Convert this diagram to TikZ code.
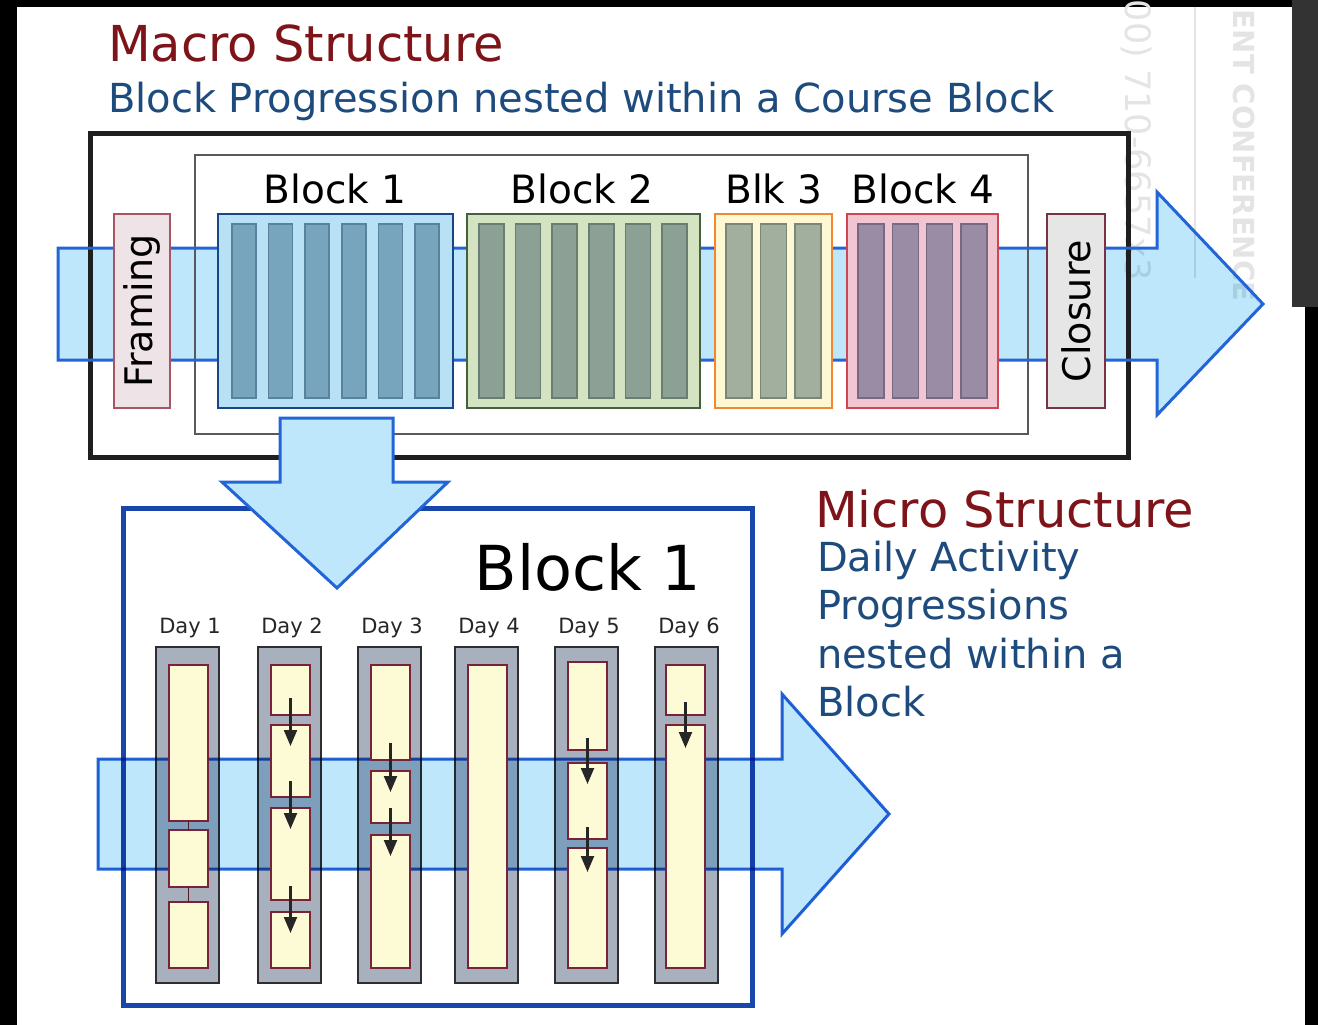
\documentclass[tikz,border=0pt]{standalone}
\usepackage{fontspec}
\setmainfont{DejaVu Sans}
\usetikzlibrary{arrows.meta}
\definecolor{arrowfill}{RGB}{190,231,251}
\definecolor{arrowline}{RGB}{35,100,215}
\definecolor{macrored}{RGB}{125,20,25}
\definecolor{subblue}{RGB}{30,75,125}
\definecolor{bAfill}{RGB}{185,225,245}\definecolor{bAline}{RGB}{25,70,135}
\definecolor{bAstripe}{RGB}{120,165,190}\definecolor{bAsline}{RGB}{90,130,155}
\definecolor{bBfill}{RGB}{212,228,195}\definecolor{bBline}{RGB}{70,95,60}
\definecolor{bBstripe}{RGB}{140,160,150}\definecolor{bBsline}{RGB}{105,125,115}
\definecolor{bCfill}{RGB}{253,247,212}\definecolor{bCline}{RGB}{240,135,50}
\definecolor{bCstripe}{RGB}{163,175,158}\definecolor{bCsline}{RGB}{120,135,120}
\definecolor{bDfill}{RGB}{242,198,208}\definecolor{bDline}{RGB}{205,70,85}
\definecolor{bDstripe}{RGB}{155,140,165}\definecolor{bDsline}{RGB}{120,105,130}
\definecolor{frfill}{RGB}{238,228,231}\definecolor{frline}{RGB}{165,85,100}
\definecolor{clfill}{RGB}{230,230,230}\definecolor{clline}{RGB}{120,50,65}
\definecolor{colfill}{RGB}{168,176,190}\definecolor{colline}{RGB}{45,45,50}
\definecolor{dayfill}{RGB}{253,250,214}\definecolor{dayline}{RGB}{120,35,55}
\definecolor{lowbox}{RGB}{25,70,170}
\definecolor{wmark}{RGB}{228,228,228}
\newcommand\mybox[6]{%
  \node[#6, rectangle, anchor=north west, minimum width={(#4)-(#2)}, minimum height={(#5)-(#3)}] (#1) at (#2,#3) {};}
\begin{document}
\begin{tikzpicture}[x=1pt,y=-1pt,
  every node/.style={inner sep=0pt, outer sep=0pt},
  mtitle/.style={font=\fontsize{49.5}{55}\selectfont, text=macrored, anchor=base west},
  msub/.style={font=\fontsize{40}{46}\selectfont, text=subblue, anchor=base west},
  blabel/.style={font=\fontsize{39}{44}\selectfont, text=black, anchor=base},
  daylabel/.style={font=\fontsize{21}{24}\selectfont, text=black!85, anchor=base},
  sidetext/.style={font=\fontsize{38}{44}\selectfont, text=black, rotate=90},
  stripeA/.style={fill=bAstripe, draw=bAsline, line width=1.5pt},
  stripeB/.style={fill=bBstripe, draw=bBsline, line width=1.5pt},
  stripeC/.style={fill=bCstripe, draw=bCsline, line width=1.5pt},
  stripeD/.style={fill=bDstripe, draw=bDsline, line width=1.5pt},
  colbox/.style={fill=colfill, draw=colline, line width=2.5pt},
  daybox/.style={fill=dayfill, draw=dayline, line width=2.2pt},
  darr/.style={draw=black!85, line width=2.2pt, -{Triangle[width=13pt,length=16pt]}},
  bigarrow/.style={draw=arrowline, line width=3pt, line join=miter}
]
\useasboundingbox (0,0) rectangle (1318,1025);
% photo frame
\fill[black] (0,0) rectangle (1318,1025);
\fill[white] (17,7) rectangle (1305,1025);
\fill[black!80] (1292,0) rectangle (1318,307);
\draw[wmark, line width=1.5pt] (1195,7) -- (1195,278);
\node[font=\fontsize{35}{35}\selectfont, text=wmark, rotate=-90, anchor=base west] (wm1) at (1125,0) {00) 710-6657x3};
\node[font=\bfseries\fontsize{29}{29}\selectfont, text=wmark, rotate=-90, anchor=base west] (wm2) at (1233,10) {ENT CONFERENCE};

% titles
\node[mtitle] (t1) at (108,62) {Macro Structure};
\node[msub] (t2) at (108,112) {Block Progression nested within a Course Block};

% top arrow fill
\fill[arrowfill, blend mode=multiply] (58,248) -- (1157,248) -- (1157,192) -- (1263,304) -- (1157,415) -- (1157,360) -- (58,360) -- cycle;
% course boxes
\mybox{outer}{90}{133}{1128}{457}{draw=black!88, line width=5pt}
\mybox{inner}{195}{155}{1028}{434}{draw=black!65, line width=2.5pt}
\draw[bigarrow] (58,248) -- (1157,248) -- (1157,192) -- (1263,304) -- (1157,415) -- (1157,360) -- (58,360) -- cycle;

% framing / closure
\mybox{fr}{114}{214}{170}{408}{fill=frfill, draw=frline, line width=2.5pt}
\node[sidetext] at (fr.center) {Framing};
\mybox{cl}{1047}{214}{1105}{408}{fill=clfill, draw=clline, line width=2.5pt}
\node[sidetext] at (cl.center) {Closure};

% Block 1
\mybox{bA}{218}{214}{453}{408}{fill=bAfill, draw=bAline, line width=2.5pt}
\foreach \i in {0,...,5} {\mybox{bAs\i}{232+\i*36.6}{224}{256+\i*36.6}{398}{stripeA}}
\node[blabel] (lA) at (335,203) {Block 1};
% Block 2
\mybox{bB}{467}{214}{700}{408}{fill=bBfill, draw=bBline, line width=2.5pt}
\foreach \i in {0,...,5} {\mybox{bBs\i}{479+\i*36.6}{224}{504+\i*36.6}{398}{stripeB}}
\node[blabel] (lB) at (582,203) {Block 2};
% Blk 3
\mybox{bC}{715}{214}{832}{408}{fill=bCfill, draw=bCline, line width=2.5pt}
\foreach \i in {0,...,2} {\mybox{bCs\i}{726+\i*34.5}{224}{752+\i*34.5}{398}{stripeC}}
\node[blabel] (lC) at (774,203) {Blk 3};
% Block 4
\mybox{bD}{847}{214}{998}{408}{fill=bDfill, draw=bDline, line width=2.5pt}
\foreach \i in {0,...,3} {\mybox{bDs\i}{858+\i*34.3}{224}{884+\i*34.3}{398}{stripeD}}
\node[blabel] (lD) at (923,203) {Block 4};

% micro structure text
\node[font=\fontsize{49.5}{52}\selectfont, text=macrored, anchor=base west] (m1) at (815,527) {Micro Structure};
\foreach \t/\y [count=\k] in {Daily Activity/571, Progressions/619, nested within a/668, Block/716}
  \node[font=\fontsize{40}{46}\selectfont, text=subblue, anchor=base west] (mline\k) at (817,\y) {\t};

% lower block
\mybox{low}{123}{508}{752}{1005}{draw=lowbox, line width=5pt}
\node[font=\fontsize{62}{62}\selectfont, anchor=base] (lowt) at (588,590) {Block 1};

% day columns
\foreach \n/\x in {1/156,2/258,3/358,4/455,5/555,6/655} {
  \mybox{col\n}{\x}{647}{\x+63}{983}{colbox}
  \node[daylabel] (dl\n) at (\x+34,633) {Day \n};
}

% lower arrow fill + outline (multiplied over columns)
\fill[arrowfill, blend mode=multiply] (98,759) -- (782,759) -- (782,694) -- (889,814) -- (782,934) -- (782,869) -- (98,869) -- cycle;
\draw[bigarrow, blend mode=multiply] (98,759) -- (782,759) -- (782,694) -- (889,814) -- (782,934) -- (782,869) -- (98,869) -- cycle;

% day boxes
\mybox{d1a}{169}{665}{208}{821}{daybox}
\mybox{d1b}{169}{830}{208}{887}{daybox}
\mybox{d1c}{169}{902}{208}{968}{daybox}
\draw[dayline!70!black, line width=1.5pt] (d1a.south) -- (d1b.north);
\draw[dayline!70!black, line width=1.5pt] (d1b.south) -- (d1c.north);

\mybox{d2a}{271}{665}{310}{715}{daybox}
\mybox{d2b}{271}{725}{310}{797}{daybox}
\mybox{d2c}{271}{808}{310}{900}{daybox}
\mybox{d2d}{271}{912}{310}{968}{daybox}

\mybox{d3a}{371}{665}{410}{760}{daybox}
\mybox{d3b}{371}{771}{410}{823}{daybox}
\mybox{d3c}{371}{835}{410}{968}{daybox}

\mybox{d4a}{468}{665}{507}{968}{daybox}

\mybox{d5a}{568}{662}{607}{750}{daybox}
\mybox{d5b}{568}{763}{607}{839}{daybox}
\mybox{d5c}{568}{848}{607}{968}{daybox}

\mybox{d6a}{666}{665}{705}{715}{daybox}
\mybox{d6b}{666}{725}{705}{968}{daybox}

\draw[darr] ([yshift=17pt]d2a.south) -- ([yshift=-21pt]d2b.north);
\draw[darr] ([yshift=16pt]d2b.south) -- ([yshift=-21pt]d2c.north);
\draw[darr] ([yshift=14pt]d2c.south) -- ([yshift=-21pt]d2d.north);
\draw[darr] ([yshift=17pt]d3a.south) -- ([yshift=-21pt]d3b.north);
\draw[darr] ([yshift=15pt]d3b.south) -- ([yshift=-21pt]d3c.north);
\draw[darr] ([yshift=12pt]d5a.south) -- ([yshift=-21pt]d5b.north);
\draw[darr] ([yshift=12pt]d5b.south) -- ([yshift=-24pt]d5c.north);
\draw[darr] ([yshift=13pt]d6a.south) -- ([yshift=-23pt]d6b.north);

% down arrow (on top)
\path[fill=arrowfill, bigarrow] (280,418) -- (393,418) -- (393,482) -- (448,482) -- (337,588) -- (222,482) -- (280,482) -- cycle;
\end{tikzpicture}
\end{document}
